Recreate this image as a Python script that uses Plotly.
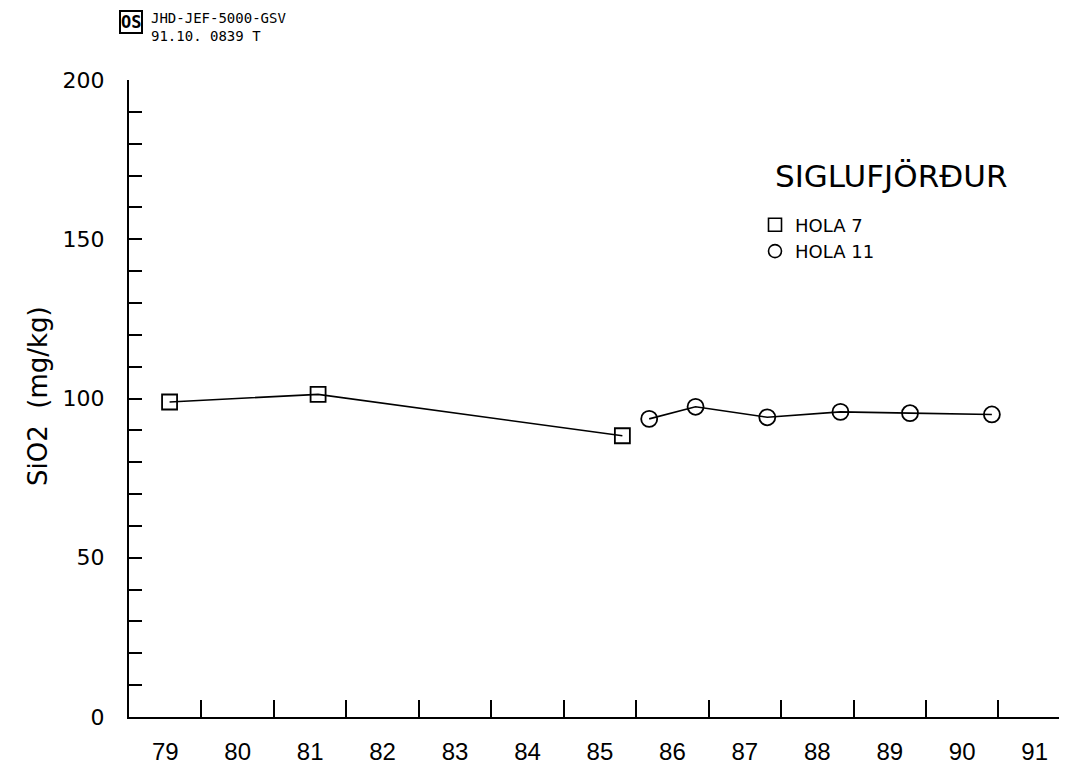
import plotly.graph_objects as go

# ---- data ----
hola7_year = [79.56, 81.61, 85.81]
hola7_sio2 = [98.9, 101.3, 88.3]
hola11_year = [86.18, 86.82, 87.81, 88.82, 89.78, 90.91]
hola11_sio2 = [93.6, 97.4, 94.1, 95.8, 95.4, 95.0]

year_labels = ["79", "80", "81", "82", "83", "84", "85", "86", "87", "88", "89", "90", "91"]
year_label_pos = [79.5 + i for i in range(len(year_labels))]
year_ticks = [80 + i for i in range(12)]
y_major = [0, 50, 100, 150, 200]

# page body has an 8px margin: figure is drawn at (8, 8) in the window
OFF = 8
W, H = 1067 - 2 * OFF, 773 - 2 * OFF
L, R, T, B = 129 - OFF, 0, 80 - OFF, H - (725 - OFF)
PW, PH = W - L - R, H - T - B
XMAX = 79 + PW / 72.45

def px(x):  # window pixel -> paper x
    return (x - OFF - L) / PW

def py(y):  # window pixel -> paper y
    return (H - B - (y - OFF)) / PH

fig = go.Figure()
fig.add_trace(go.Scatter(x=hola7_year, y=hola7_sio2, mode="lines+markers",
                         line=dict(color="black", width=1.6),
                         marker=dict(symbol="square-open", size=15, color="black", line=dict(width=1.8)),
                         showlegend=False))
fig.add_trace(go.Scatter(x=hola11_year, y=hola11_sio2, mode="lines+markers",
                         line=dict(color="black", width=1.6),
                         marker=dict(symbol="circle-open", size=16, color="black", line=dict(width=1.8)),
                         showlegend=False))
# legend entries
fig.add_trace(go.Scatter(x=[None], y=[None], mode="markers", name="HOLA 7",
                         marker=dict(symbol="square-open", size=13, color="black", line=dict(width=1.6))))
fig.add_trace(go.Scatter(x=[None], y=[None], mode="markers", name="HOLA 11",
                         marker=dict(symbol="circle-open", size=13, color="black", line=dict(width=1.6))))

fig.update_layout(
    width=W, height=H,
    margin=dict(l=L, r=R, t=T, b=B),
    paper_bgcolor="white", plot_bgcolor="white",
    showlegend=True,
    legend=dict(x=px(755), y=py(240), xanchor="left", yanchor="middle",
                font=dict(family="DejaVu Sans", size=18, color="black"),
                bgcolor="rgba(0,0,0,0)", itemwidth=30, tracegroupgap=0),
    xaxis=dict(range=[79, XMAX], showgrid=False, zeroline=False,
               showline=True, linecolor="black", linewidth=2,
               tickmode="array", tickvals=year_label_pos, ticktext=year_labels,
               ticks="", ticklabelstandoff=12,
               tickfont=dict(family="Liberation Sans", size=24, color="black"),
               minor=dict(tickmode="array", tickvals=year_ticks, ticks="inside",
                          ticklen=17, tickwidth=2, tickcolor="black", showgrid=False)),
    xaxis2=dict(range=[79, XMAX], overlaying="x", side="top", anchor="y",
                showgrid=False, zeroline=False, showline=True, linecolor="black", linewidth=2,
                tickmode="array", tickvals=year_ticks, ticks="inside", ticklen=17,
                tickwidth=2, tickcolor="black", showticklabels=False),
    yaxis=dict(range=[0, 200], showgrid=False, zeroline=False,
               showline=True, linecolor="black", linewidth=2,
               tickmode="array", tickvals=y_major, ticks="inside", ticklen=13,
               tickwidth=2, tickcolor="black", ticklabelstandoff=18,
               tickfont=dict(family="DejaVu Sans", size=22, color="black"),
               minor=dict(dtick=10, ticks="inside", ticklen=13, tickwidth=2,
                          tickcolor="black", showgrid=False)),
    yaxis2=dict(range=[0, 200], overlaying="y", side="right", anchor="x",
                showgrid=False, zeroline=False, showline=False,
                tickmode="array", tickvals=[50, 100, 150], ticks="inside", ticklen=15,
                tickwidth=2, tickcolor="black", showticklabels=False,
                minor=dict(dtick=10, ticks="inside", ticklen=7, tickwidth=2,
                           tickcolor="black", showgrid=False)),
)

ann = [
    dict(text="SiO2  (mg/kg)", x=px(38), y=py(400), textangle=-90,
         font=dict(family="DejaVu Sans", size=26, color="black")),
    dict(text="SIGLUFJÖRÐUR", x=px(891), y=py(177),
         font=dict(family="DejaVu Sans", size=31, color="black")),
    dict(text="<b>OS</b>", x=px(131), y=py(21), bordercolor="black", borderwidth=2, borderpad=0,
         font=dict(family="DejaVu Sans Mono", size=17, color="black")),
    dict(text="JHD-JEF-5000-GSV", x=px(150), y=py(17), xanchor="left", borderpad=0,
         font=dict(family="DejaVu Sans Mono", size=14, color="black")),
    dict(text="91.10. 0839 T", x=px(150), y=py(35), xanchor="left", borderpad=0,
         font=dict(family="DejaVu Sans Mono", size=14, color="black")),
]
for a in ann:
    a.setdefault("xref", "paper")
    a.setdefault("yref", "paper")
    a.setdefault("showarrow", False)
    a.setdefault("xanchor", "center")
    a.setdefault("yanchor", "middle")
    fig.add_annotation(**a)

fig.write_html("out.html")
